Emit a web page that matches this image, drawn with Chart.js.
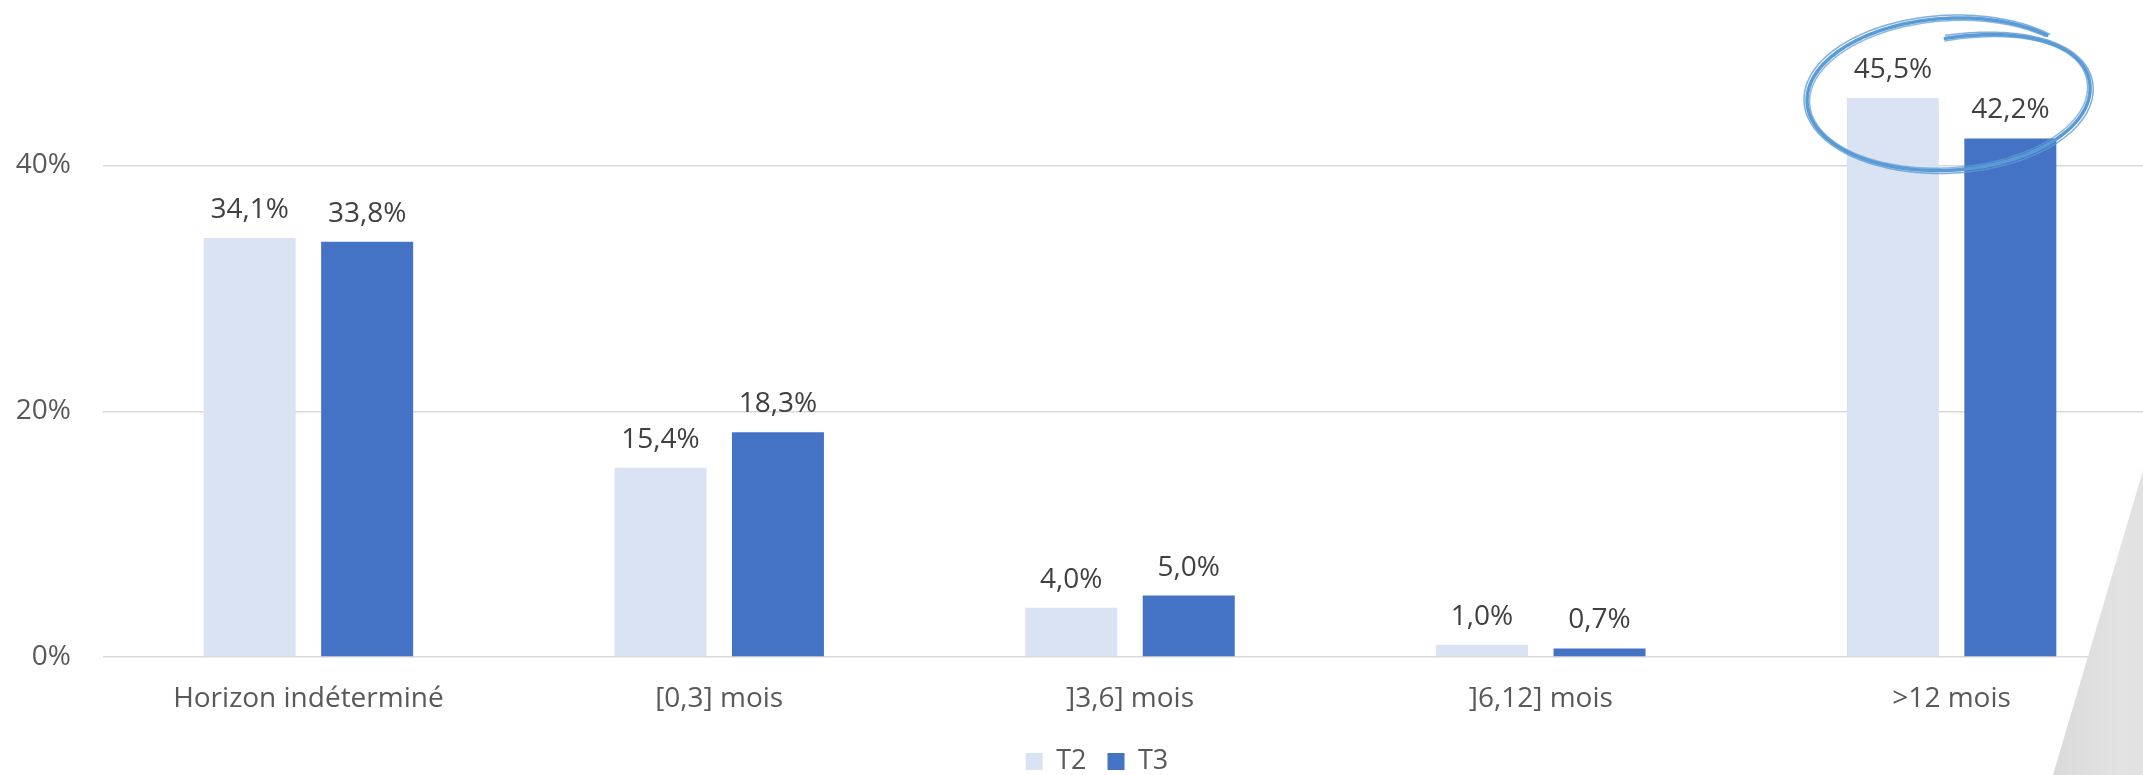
<!DOCTYPE html>
<html>
<head>
<meta charset="utf-8">
<script src="https://cdn.jsdelivr.net/npm/chart.js@4/dist/chart.umd.min.js"></script>
<style>
  html, body { margin: 0; padding: 0; background: #fff; overflow: hidden; }
  #wrap { position: relative; width: 2194px; height: 785px; }
</style>
</head>
<body>
<div id="wrap"><canvas id="chart" width="2194" height="785"></canvas></div>
<script>
// Données
const categories = ['Horizon indéterminé', '[0,3] mois', ']3,6] mois', ']6,12] mois', '>12 mois'];
const seriesT2 = [34.1, 15.4, 4.0, 1.0, 45.5];
const seriesT3 = [33.8, 18.3, 5.0, 0.7, 42.2];
const yTicks = [0, 20, 40];
const seriesLabels = ['T2', 'T3'];

const FONT = "'Open Sans', 'Noto Sans', sans-serif";
const HIGHLIGHT_INDEX = 4;

function fmt(v) {
  return v.toFixed(1).replace('.', ',') + '%';
}

// Étiquettes de valeur au-dessus des barres
const valueLabels = {
  id: 'valueLabels',
  afterDatasetsDraw(chart) {
    const ctx = chart.ctx;
    ctx.save();
    ctx.font = '28px ' + FONT;
    ctx.fillStyle = '#404040';
    ctx.textAlign = 'center';
    ctx.textBaseline = 'alphabetic';
    chart.data.datasets.forEach((ds, i) => {
      const meta = chart.getDatasetMeta(i);
      meta.data.forEach((bar, j) => {
        ctx.fillText(fmt(ds.data[j]), bar.x, bar.y - 20);
      });
    });
    ctx.restore();
  }
};

// Ellipse dessinée à la main autour de la dernière catégorie + triangle décoratif
const decorations = {
  id: 'decorations',
  afterDraw(chart) {
    const ctx = chart.ctx;
    const x = chart.scales.x;
    const y = chart.scales.y;
    const catW = x.width / categories.length;
    const cx = x.getPixelForValue(HIGHLIGHT_INDEX) - 3;
    const cy = y.getPixelForValue(45.8);
    const rx = catW * 0.345;
    const ryMax = 76;
    const ryMin = 56;
    const phi = -0.06;

    function stroke(width, alpha, dr, dphi) {
      ctx.save();
      ctx.strokeStyle = '#5B9BD5';
      ctx.globalAlpha = alpha;
      ctx.lineWidth = width;
      ctx.lineCap = 'round';
      ctx.beginPath();
      const t0 = -Math.PI / 2;
      const t1 = t0 + Math.PI * 2 + 0.8;
      const steps = 240;
      for (let k = 0; k <= steps; k++) {
        const t = t0 + (t1 - t0) * k / steps;
        const p = Math.min(1, (t - t0) / (Math.PI / 2));
        const ry = ryMin + (ryMax - ryMin) * p + dr;
        const rxx = rx + dr;
        const f = phi + dphi;
        const px = cx + rxx * Math.cos(t) * Math.cos(f) - ry * Math.sin(t) * Math.sin(f);
        const py = cy + rxx * Math.cos(t) * Math.sin(f) + ry * Math.sin(t) * Math.cos(f);
        if (k === 0) ctx.moveTo(px, py); else ctx.lineTo(px, py);
      }
      ctx.stroke();
      ctx.restore();
    }
    stroke(3.5, 1, 0, 0);
    stroke(1.5, 0.8, 3, 0.01);
    stroke(1.5, 0.7, -2.5, -0.01);

    // triangle gris en bas à droite
    ctx.save();
    const g = ctx.createLinearGradient(2047, 0, 2194, 0);
    g.addColorStop(0, '#D9D9D9');
    g.addColorStop(0.5, '#E3E3E3');
    g.addColorStop(1, '#DCDCDC');
    ctx.fillStyle = g;
    ctx.beginPath();
    ctx.moveTo(2050, 785);
    ctx.lineTo(2194, 298);
    ctx.lineTo(2194, 785);
    ctx.closePath();
    ctx.fill();
    ctx.restore();
  }
};

const chart = new Chart(document.getElementById('chart'), {
  type: 'bar',
  data: {
    labels: categories,
    datasets: [
      {
        label: seriesLabels[0],
        data: seriesT2,
        backgroundColor: '#DAE3F3',
        borderWidth: 0,
        categoryPercentage: 0.572,
        barPercentage: 0.783
      },
      {
        label: seriesLabels[1],
        data: seriesT3,
        backgroundColor: '#4472C4',
        borderWidth: 0,
        categoryPercentage: 0.572,
        barPercentage: 0.783
      }
    ]
  },
  options: {
    responsive: false,
    animation: false,
    events: [],
    layout: { padding: { top: 38, left: 0, right: 0, bottom: 0 } },
    plugins: {
      legend: {
        position: 'bottom',
        labels: {
          color: '#595959',
          font: { family: FONT, size: 27 },
          boxWidth: 17,
          boxHeight: 17,
          padding: 21
        }
      },
      tooltip: { enabled: false }
    },
    scales: {
      x: {
        grid: { display: false, drawTicks: false },
        border: { display: false },
        ticks: {
          color: '#595959',
          font: { family: FONT, size: 28 },
          padding: 25,
          maxRotation: 0,
          autoSkip: false
        },
        afterFit(axis) { axis.height = 70; }
      },
      y: {
        min: 0,
        max: 49.5,
        grid: { color: '#D9D9D9', lineWidth: 1.5, drawTicks: false },
        border: { display: false },
        ticks: {
          color: '#595959',
          font: { family: FONT, size: 28 },
          padding: 32,
          callback: v => v + '%'
        },
        afterBuildTicks(axis) { axis.ticks = yTicks.map(v => ({ value: v })); },
        afterFit(axis) { axis.width = 103; }
      },
      y2: {
        position: 'right',
        display: true,
        grid: { display: false, drawTicks: false },
        border: { display: false },
        ticks: { display: false },
        afterFit(axis) { axis.width = 37; }
      }
    }
  },
  plugins: [valueLabels, decorations]
});
</script>
</body>
</html>
